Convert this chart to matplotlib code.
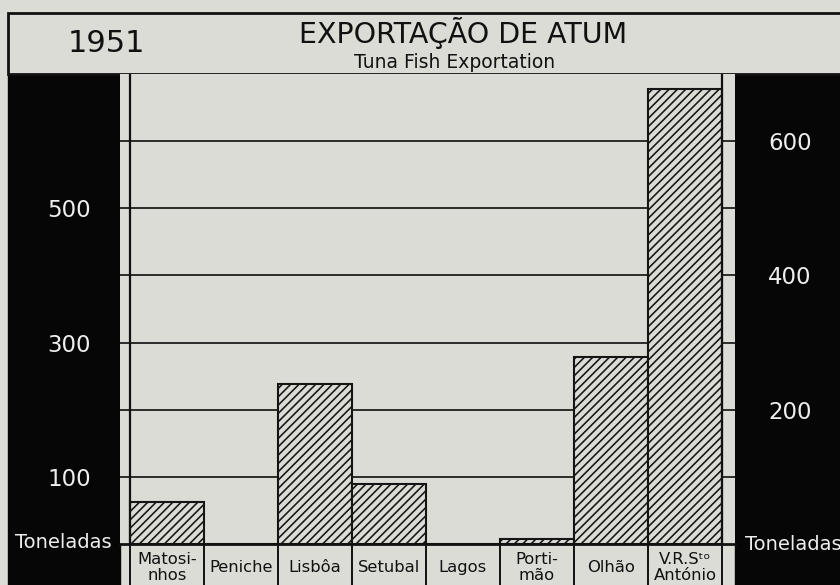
import matplotlib.pyplot as plt
from matplotlib.patches import Rectangle

year = "1951"
title = "EXPORTAÇÃO DE ATUM"
subtitle = "Tuna Fish Exportation"
ports = ["Matosi-\nnhos", "Peniche", "Lisbôa", "Setubal", "Lagos",
         "Porti-\nmão", "Olhão", "V.R.Sᵗᵒ\nAntónio"]
tonnes = [63, 0, 239, 90, 0, 8, 279, 678]
grid_levels = [100, 200, 300, 400, 500, 600]
left_ticks = [100, 300, 500]
right_ticks = [200, 400, 600]
unit = "Toneladas"

paper = '#dadcd5'
ink = '#111111'
W, H = 840, 585


def fx(x):
    return x / W


def fy(y):
    return 1 - y / H


plt.rcParams['font.family'] = ['DejaVu Sans']
plt.rcParams['hatch.linewidth'] = 1.15

fig = plt.figure(figsize=(8.4, 5.85), dpi=100, facecolor=paper)

# black strips left and right (behind the axes and tick labels)
fig.patches.append(Rectangle((fx(8), 0), fx(120) - fx(8), fy(74),
                             transform=fig.transFigure, color='#060606', zorder=-2))
fig.patches.append(Rectangle((fx(735), 0), 1 - fx(735), fy(74),
                             transform=fig.transFigure, color='#060606', zorder=-2))
# header box
fig.patches.append(Rectangle((fx(8), fy(74)), 1.0, fy(13) - fy(74),
                             transform=fig.transFigure, facecolor=paper,
                             edgecolor=ink, lw=2, zorder=-2))

ax = fig.add_axes([fx(120), fy(544), fx(735) - fx(120), fy(74) - fy(544)])
ax.set_facecolor(paper)
x = list(range(len(ports)))
xl = (-0.5 - 10 / 74, 7.5 + 13 / 74)
ax.set_xlim(*xl)
ax.set_ylim(0, 700)

ax.hlines(grid_levels, xl[0], xl[1], color='#1e1e1e', lw=1.3, zorder=1)
ax.bar(x, tonnes, width=1.0, facecolor=paper, edgecolor='#151515',
       hatch='////', linewidth=1.5, zorder=3)
ax.axhline(0, color=ink, lw=2, zorder=4, clip_on=False)
ax.vlines([-0.5, 7.5], 0, 700, color=ink, lw=1.6, zorder=4)

# label row under the baseline
ax.vlines([i - 0.5 for i in range(len(ports) + 1)], -70, 0, color=ink, lw=1.4,
          clip_on=False, zorder=4)
for i, name in enumerate(ports):
    ax.text(i, -35, name, ha='center', va='center', fontsize=11.8,
            linespacing=1.05, color=ink, clip_on=False)

for s in ax.spines.values():
    s.set_visible(False)
ax.set_xticks([])
ax.set_yticks(left_ticks)
ax.tick_params(axis='y', length=0, pad=36.7, labelcolor='#eeeeee', labelsize=16.5)
for lbl in ax.get_yticklabels():
    lbl.set_ha('center')

ax2 = ax.twinx()
ax2.set_ylim(0, 700)
ax2.set_yticks(right_ticks)
ax2.tick_params(axis='y', length=0, pad=39.6, labelcolor='#eeeeee', labelsize=16.5)
for lbl in ax2.get_yticklabels():
    lbl.set_ha('center')
for s in ax2.spines.values():
    s.set_visible(False)

fig.text(fx(63), fy(543), unit, ha='center', va='center', color='#eeeeee', fontsize=14)
fig.text(fx(745), fy(545), unit, ha='left', va='center', color='#eeeeee', fontsize=14)

fig.text(fx(106), fy(43), year, ha='center', va='center', color=ink, fontsize=22)
fig.text(fx(463), fy(33), title, ha='center', va='center', color=ink, fontsize=20.5)
fig.text(fx(455), fy(62), subtitle, ha='center', va='center', color=ink, fontsize=13.5)

fig.savefig('out.png', dpi=100, facecolor=paper)
